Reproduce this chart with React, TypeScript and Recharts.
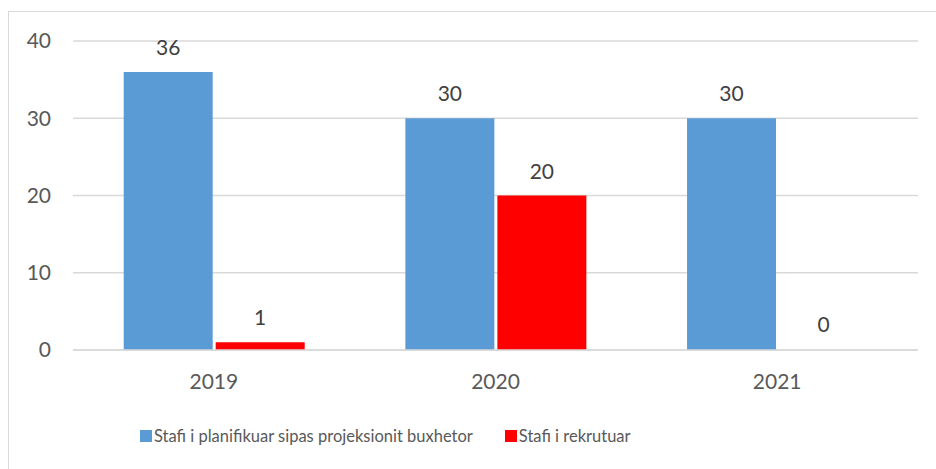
import { BarChart, Bar, XAxis, YAxis, CartesianGrid, Legend, LabelList, Cell } from "recharts";

const years = ["2019", "2020", "2021"];
const planned = [36, 30, 30];
const recruited = [1, 20, 0];
const yTicks = [0, 10, 20, 30, 40];

const seriesNames = {
    planned: "Stafi i planifikuar sipas projeksionit buxhetor",
    recruited: "Stafi i rekrutuar",
};

const data = years.map((year, i) => ({
    year,
    planned: planned[i],
    recruited: recruited[i],
}));

const font = "Lato, sans-serif";

function LegendContent(props: any) {
    const { payload } = props;
    return (
        <div style={{ display: "flex", alignItems: "center", paddingLeft: 140, fontFamily: font, fontSize: 16.5, color: "#595959", height: 24 }}>
            {payload.map((entry: any, i: number) => (
                <div key={i} style={{ display: "flex", alignItems: "center", marginRight: 32 }}>
                    <span style={{ width: 12, height: 12, background: entry.color, marginRight: 2, display: "inline-block" }} />
                    <span>{entry.value}</span>
                </div>
            ))}
        </div>
    );
}

export default function App() {
    return (
        <div style={{ position: "absolute", left: 0, top: 0, width: 936, height: 469, overflow: "hidden", background: "#fff" }}>
            <div style={{ position: "absolute", left: 8, top: 11, width: 940, height: 480, border: "1px solid #D9D9D9" }} />
            <BarChart
                width={936}
                height={469}
                data={data}
                margin={{ top: 41, right: 18, bottom: 0, left: 0 }}
                barCategoryGap="18%"
                barGap={3}
            >
                <CartesianGrid vertical={false} stroke="#D9D9D9" strokeWidth={1.5} />
                <XAxis
                    dataKey="year"
                    axisLine={{ stroke: "#D9D9D9", strokeWidth: 1.5 }}
                    tickLine={false}
                    tickSize={0}
                    tickMargin={24}
                    height={119 - 77}
                    tick={{ fill: "#595959", fontSize: 21, fontFamily: font }}
                />
                <YAxis
                    domain={[0, 40]}
                    ticks={yTicks}
                    axisLine={false}
                    tickLine={false}
                    tickSize={0}
                    tickMargin={22}
                    width={73}
                    tick={{ fill: "#595959", fontSize: 21, fontFamily: font }}
                />
                <Legend verticalAlign="bottom" height={77} content={<LegendContent />} wrapperStyle={{ top: 424, left: 0, bottom: "auto" }} />
                <Bar dataKey="planned" name={seriesNames.planned} fill="#5B9BD5" minPointSize={1} isAnimationActive={false}>
                    {planned.map((v, i) => (
                        <Cell key={i} fill={v === 0 ? "none" : "#5B9BD5"} />
                    ))}
                    <LabelList dataKey="planned" position="top" offset={17} fill="#404040" fontSize={21} fontFamily={font} />
                </Bar>
                <Bar dataKey="recruited" name={seriesNames.recruited} fill="#FF0000" minPointSize={1} isAnimationActive={false}>
                    {recruited.map((v, i) => (
                        <Cell key={i} fill={v === 0 ? "none" : "#FF0000"} />
                    ))}
                    <LabelList dataKey="recruited" position="top" offset={17} fill="#404040" fontSize={21} fontFamily={font} />
                </Bar>
            </BarChart>
        </div>
    );
}
